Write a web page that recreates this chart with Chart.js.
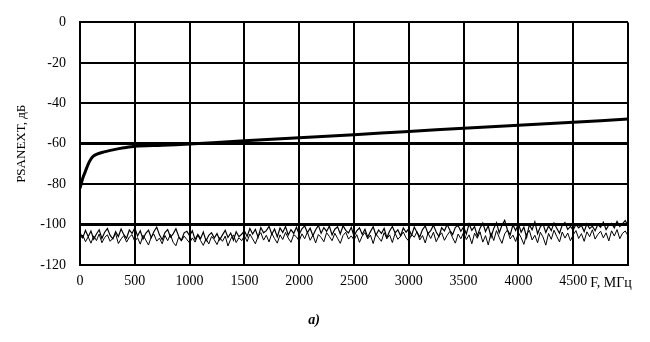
<!DOCTYPE html>
<html>
<head>
<meta charset="utf-8">
<script src="https://cdn.jsdelivr.net/npm/chart.js@4"></script>
<style>
  body { margin: 0; background: #fff; }
  #wrap { width: 650px; height: 342px; }
</style>
</head>
<body>
<div id="wrap"><canvas id="grafico" width="650" height="342"></canvas></div>
<script>
// Datos de la curva principal (PSANEXT)
const frecPrincipal = [0, 25, 50, 75, 100, 125, 150, 200, 250, 300, 400, 500, 750, 1000, 1500, 2000, 2500, 3000, 3500, 4000, 4500, 5000];
const psanextPrincipal = [-82, -77, -73.5, -70, -67.5, -66, -65.2, -64.3, -63.6, -63, -62, -61.2, -60.7, -60.1, -58.5, -57, -55.5, -53.9, -52.3, -50.8, -49.3, -47.8];

// Ruido medido, paso de 25 MHz
const pasoRuido = 25;
const ruidoA = [
  -104.0,-106.5,-102.8,-105.9,-103.1,-107.2,-104.6,-102.5,-106.8,-103.7,-101.9,-105.3,-107.0,-103.4,-105.8,-102.1,-104.9,-106.7,-102.6,-104.3,
  -101.5,-105.6,-103.0,-107.1,-104.2,-102.7,-106.4,-103.3,-101.2,-105.0,-107.4,-103.9,-102.4,-106.1,-104.5,-102.0,-105.7,-107.8,-104.0,-103.2,
  -105.5,-103.0,-107.3,-104.8,-106.9,-103.6,-108.0,-105.2,-103.9,-106.6,-104.4,-107.5,-105.0,-102.8,-106.3,-104.1,-107.6,-103.5,-105.9,-104.7,
  -103.0,-105.8,-101.9,-104.6,-102.3,-106.2,-101.4,-104.0,-102.9,-100.8,-104.7,-102.1,-106.0,-101.6,-103.8,-100.9,-105.1,-102.4,-104.3,-101.2,
  -104.8,-102.0,-100.6,-103.9,-101.7,-105.4,-102.5,-100.3,-104.2,-101.4,-103.3,-100.7,-105.0,-102.2,-101.0,-104.6,-100.5,-102.8,-104.1,-101.3,
  -105.6,-103.0,-101.5,-104.8,-102.2,-106.1,-103.4,-101.0,-105.2,-102.6,-104.3,-101.8,-106.4,-103.1,-100.9,-104.0,-102.5,-105.5,-101.6,-103.7,
  -102.0,-105.3,-101.1,-103.8,-106.0,-102.4,-100.6,-104.4,-102.9,-100.2,-103.6,-105.8,-101.5,-103.0,-99.9,-102.7,-104.9,-101.3,-100.4,-103.2,
  -101.0,-104.6,-99.6,-102.8,-100.9,-105.5,-101.7,-99.2,-103.4,-100.5,-106.2,-101.8,-99.0,-104.0,-100.3,-97.8,-102.6,-105.0,-100.1,-102.9,
  -99.4,-103.7,-101.2,-106.3,-100.0,-102.5,-98.6,-104.4,-101.0,-99.7,-103.8,-100.6,-102.9,-99.1,-101.7,-104.2,-100.2,-98.9,-102.3,-100.8,
  -102.6,-99.8,-101.5,-100.3,-103.4,-99.5,-101.9,-100.7,-103.0,-99.9,-101.2,-98.7,-102.4,-100.1,-99.3,-101.6,-98.4,-100.9,-99.6,-97.9,-100.5
];
const ruidoB = [
  -107.2,-105.1,-108.4,-106.0,-109.1,-105.5,-107.8,-104.6,-108.9,-106.3,-105.0,-108.2,-106.7,-104.4,-109.3,-107.0,-105.4,-108.6,-106.1,-104.9,
  -108.3,-106.4,-109.6,-105.2,-107.5,-110.0,-106.0,-104.7,-108.1,-106.6,-109.4,-105.3,-107.9,-104.8,-108.7,-110.4,-106.2,-108.0,-105.6,-107.3,
  -109.0,-106.5,-108.6,-105.1,-107.8,-110.2,-106.9,-109.5,-105.8,-107.4,-109.8,-106.3,-108.2,-105.6,-110.5,-107.1,-105.0,-108.8,-106.4,-107.9,
  -105.4,-108.3,-104.6,-107.0,-109.4,-105.7,-103.9,-107.6,-105.2,-108.5,-104.3,-106.8,-109.1,-105.0,-107.3,-103.8,-106.6,-108.7,-104.9,-106.0,
  -108.0,-104.5,-106.9,-103.6,-107.7,-105.1,-109.0,-104.8,-106.3,-108.4,-103.9,-105.8,-107.9,-104.2,-106.7,-109.2,-105.3,-103.7,-107.1,-105.5,
  -107.5,-104.9,-108.7,-105.6,-103.8,-107.0,-105.1,-109.3,-104.5,-106.4,-108.2,-103.9,-106.9,-105.0,-108.8,-104.2,-107.2,-105.7,-103.6,-106.5,
  -108.1,-104.7,-106.2,-103.4,-107.5,-105.3,-109.0,-104.1,-106.8,-103.7,-108.4,-105.6,-104.0,-107.7,-105.2,-103.3,-106.5,-109.1,-104.6,-106.9,
  -103.8,-107.3,-105.0,-109.4,-104.2,-106.7,-103.5,-108.6,-105.4,-110.0,-104.0,-107.8,-102.9,-106.3,-109.2,-104.5,-102.6,-107.0,-105.1,-108.3,
  -103.9,-106.4,-109.7,-104.6,-102.8,-107.5,-105.2,-108.9,-103.7,-106.1,-110.1,-104.3,-107.2,-102.7,-105.8,-108.5,-103.6,-106.6,-104.1,-107.9,
  -105.0,-102.9,-106.8,-104.4,-108.2,-103.5,-105.9,-102.5,-107.1,-104.8,-103.2,-106.5,-104.0,-108.0,-103.0,-105.6,-102.4,-106.9,-104.2,-103.1,-105.4
];

// Ejes
const xMin = 0, xMax = 5000, xPaso = 500;
const yMin = -120, yMax = 0, yPaso = 20;
const tituloY = 'PSANEXT, дБ';
const tituloX = 'F, МГц';
const pie = 'а)';

const fuente = 'Liberation Serif';

const puntosPrincipal = frecPrincipal.map((f, i) => ({ x: f, y: psanextPrincipal[i] }));
const puntosA = ruidoA.map((v, i) => ({ x: i * pasoRuido, y: v }));
const puntosB = ruidoB.map((v, i) => ({ x: i * pasoRuido, y: v }));

// Etiqueta del eje X junto al último tick
const etiquetaEjeX = {
  id: 'etiquetaEjeX',
  afterDraw(chart) {
    const ctx = chart.ctx;
    const xs = chart.scales.x;
    ctx.save();
    ctx.font = '14px "' + fuente + '"';
    ctx.fillStyle = '#000';
    ctx.textAlign = 'center';
    ctx.textBaseline = 'middle';
    ctx.fillText(tituloX, xs.getPixelForValue(xMax) - 17, xs.top + 18);
    ctx.restore();
  }
};

const ctx = document.getElementById('grafico').getContext('2d');
const grafico = new Chart(ctx, {
  type: 'line',
  data: {
    datasets: [
      {
        label: 'PSANEXT',
        data: puntosPrincipal,
        borderColor: '#000',
        borderWidth: 3,
        pointRadius: 0,
        fill: false,
        tension: 0.3
      },
      {
        label: 'Ruido 1',
        data: puntosA,
        borderColor: '#000',
        borderWidth: 1.2,
        pointRadius: 0,
        fill: false
      },
      {
        label: 'Ruido 2',
        data: puntosB,
        borderColor: '#000',
        borderWidth: 1,
        pointRadius: 0,
        fill: false
      }
    ]
  },
  options: {
    responsive: false,
    animation: false,
    layout: { padding: { top: 19, right: 22, bottom: 0, left: 0 } },
    plugins: {
      legend: { display: false },
      tooltip: { enabled: false },
      title: {
        display: true,
        position: 'bottom',
        text: pie,
        color: '#000',
        font: { family: fuente, size: 14, style: 'italic', weight: 'bold' },
        padding: { top: 17, bottom: 13 }
      }
    },
    scales: {
      x: {
        type: 'linear',
        min: xMin,
        max: xMax,
        afterFit(scale) { scale.height = 30; },
        ticks: {
          stepSize: xPaso,
          color: '#000',
          font: { family: fuente, size: 14 },
          padding: 8,
          maxRotation: 0,
          callback: v => (v === xMax ? '' : v)
        },
        grid: {
          color: '#000',
          lineWidth: 2,
          drawTicks: false
        },
        border: { color: '#000', width: 2 }
      },
      y: {
        min: yMin,
        max: yMax,
        afterFit(scale) { scale.width = 80; },
        ticks: {
          stepSize: yPaso,
          color: '#000',
          font: { family: fuente, size: 14 },
          padding: 14
        },
        grid: {
          color: '#000',
          lineWidth: c => (c.tick && (c.tick.value === -60 || c.tick.value === -100) ? 3 : 2),
          drawTicks: false
        },
        border: { color: '#000', width: 2 },
        title: {
          display: true,
          text: tituloY,
          color: '#000',
          font: { family: fuente, size: 13 },
          padding: { top: 14, bottom: 0 }
        }
      }
    }
  },
  plugins: [etiquetaEjeX]
});
</script>
</body>
</html>
